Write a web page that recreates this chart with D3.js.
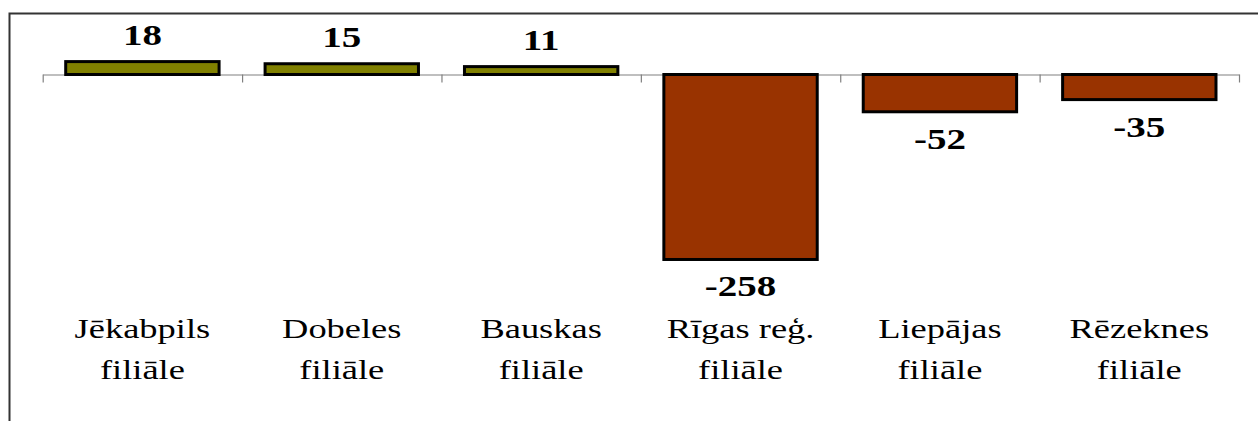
<!DOCTYPE html>
<html>
<head>
<meta charset="utf-8">
<script src="https://cdn.jsdelivr.net/npm/d3@7"></script>
<style>
html,body{margin:0;padding:0;background:#fff;overflow:hidden;}
svg{display:block;}
</style>
</head>
<body>
<svg id="chart" width="1258" height="421"></svg>
<script>
const categories = ["Jēkabpils filiāle","Dobeles filiāle","Bauskas filiāle","Rīgas reģ. filiāle","Liepājas filiāle","Rēzeknes filiāle"];
const values = [18, 15, 11, -258, -52, -35];
const barColors = ["#808000","#808000","#808000","#993300","#993300","#993300"];

const svg = d3.select("#chart");
const W = 1258, H = 421;

// frame
svg.append("rect").attr("x",9.5).attr("y",13.5).attr("width",1260).attr("height",420)
  .attr("fill","none").attr("stroke","#333").attr("stroke-width",2);

const x0 = 42.7, x1 = 1239;
const x = d3.scaleBand().domain(categories).range([x0,x1]).paddingInner(0.3/1.3).paddingOuter(0.15/1.3);
const xt = d3.scaleLinear().domain([0,categories.length]).range([x0,x1]);
const y = d3.scaleLinear().domain([-300,50]).range([74.5+300*0.717, 74.5-50*0.717]);

// bars
svg.selectAll("rect.bar").data(values).enter().append("rect")
  .attr("class","bar")
  .attr("x",(d,i)=>x(categories[i]))
  .attr("width",x.bandwidth())
  .attr("y",d=>y(Math.max(0,d)))
  .attr("height",d=>Math.abs(y(d)-y(0)))
  .attr("fill",(d,i)=>barColors[i])
  .attr("stroke","#000").attr("stroke-width",3);

// axis with ticks between categories
const axis = svg.append("g").attr("transform",`translate(0,${y(0)})`)
  .call(d3.axisBottom(xt).tickValues(d3.range(categories.length+1)).tickFormat("").tickSize(8).tickSizeOuter(0));
axis.select(".domain").attr("stroke","#808080").attr("stroke-width",1.2);
axis.selectAll(".tick line").attr("stroke","#808080").attr("stroke-width",1.2);
// redraw bars above axis line
svg.selectAll("rect.bar").raise();

// value labels
const sxV = 1.3;
svg.selectAll("text.val").data(values).enter().append("text")
  .attr("class","val")
  .attr("transform",(d,i)=>{
    const cx = x(categories[i]) + x.bandwidth()/2;
    const by = d>=0 ? y(d)-17 : y(d)+37;
    return `translate(${cx},${by}) scale(${sxV},1)`;
  })
  .attr("text-anchor","middle")
  .attr("font-family","'Liberation Serif','Times New Roman',serif")
  .attr("font-weight","bold").attr("font-size",30).attr("fill","#000")
  .text(d=>d);

// category labels
const sxC = 1.35;
categories.forEach((c,i)=>{
  const k = c.lastIndexOf(" ");
  const lines = [c.slice(0,k), c.slice(k+1)];
  const cx = x(c) + x.bandwidth()/2;
  lines.forEach((ln,j)=>{
    svg.append("text")
      .attr("transform",`translate(${cx},${338+j*41}) scale(${sxC},1)`)
      .attr("text-anchor","middle")
      .attr("font-family","'Liberation Serif','Times New Roman',serif")
      .attr("font-size",27).attr("fill","#000")
      .text(ln);
  });
});
</script>
</body>
</html>
